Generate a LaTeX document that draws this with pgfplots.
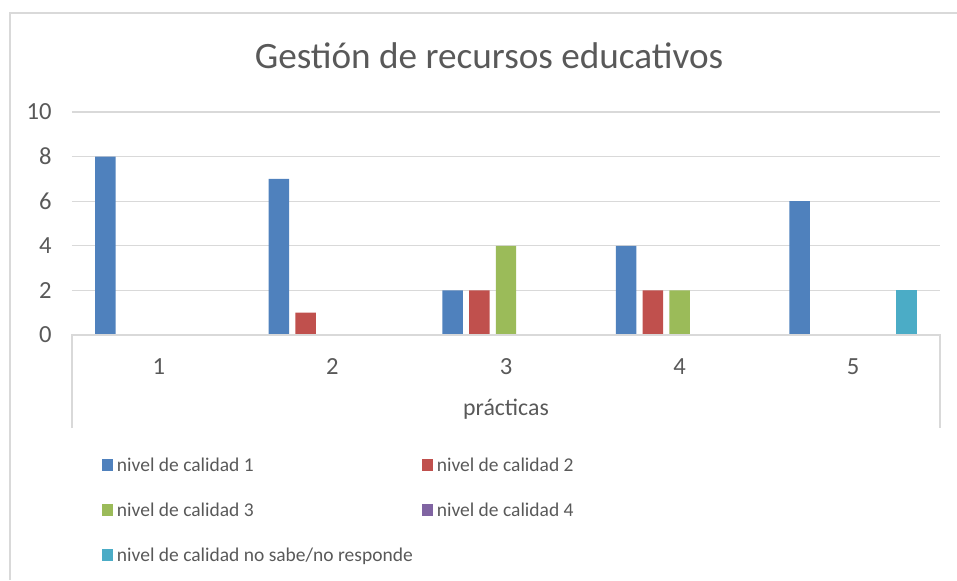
\documentclass[border=0pt]{standalone}
\usepackage{fontspec}
\setmainfont{Carlito}
\usepackage{pgfplots}
\pgfplotsset{compat=1.18}
\definecolor{cA}{HTML}{4F81BD}
\definecolor{cB}{HTML}{C0504D}
\definecolor{cC}{HTML}{9BBB59}
\definecolor{cD}{HTML}{8064A2}
\definecolor{cE}{HTML}{4BACC6}
\definecolor{gridc}{HTML}{D9D9D9}
\definecolor{txt}{HTML}{595959}
\pgfplotsset{sqlegend/.style={legend image code/.code={\fill[##1,draw=none] (0pt,-2.5pt) rectangle (5.5pt,3.75pt);}}}
\begin{document}
\color{txt}
\begin{tikzpicture}
\useasboundingbox (0,0) rectangle (478.5pt,-290pt);
\draw[gridc, line width=0.7pt] (5pt,-290pt) -- (5pt,-6.5pt) -- (478.5pt,-6.5pt);
\node[anchor=base, font=\fontsize{18.6}{22}\selectfont, text=txt] at (244.5pt,-34.15pt) {Gestión de recursos educativos};
\begin{axis}[
  name=ax,
  at={(36pt,-167.5pt)}, anchor=south west,
  scale only axis, width=434pt, height=111.5pt,
  xmin=0.5, xmax=5.5, ymin=0, ymax=10,
  xtick={1,2,3,4,5}, ytick={0,2,4,6,8,10},
  /pgf/number format/assume math mode=true,
  major tick length=0pt,
  tick style={draw=none},
  axis line style={draw=none},
  ymajorgrids, grid style={gridc, line width=0.65pt},
  tick label style={font=\fontsize{12.3}{14}\selectfont, text=txt},
  yticklabel style={anchor=east, inner sep=0pt, xshift=-10pt},
  xticklabel style={anchor=base, inner sep=0pt, yshift=-19.5pt},
  xlabel={prácticas},
  x label style={at={(axis description cs:0.5,0)}, anchor=base, inner sep=0pt, yshift=-40pt, font=\fontsize{11.9}{14}\selectfont, text=txt},
  legend columns=2,
  legend cell align=left,
  legend style={
    at={(axis description cs:0.03456,-0.53812)}, anchor=north west,
    draw=none, fill=none, inner sep=0pt, outer sep=0pt,
    font=\fontsize{9.75}{12}\selectfont, text=txt,
    column sep=0pt, row sep=11.5pt,
    nodes={inner sep=0pt, text height=8pt, text depth=3pt, font=\fontsize{9.75}{12}\selectfont},
    /tikz/every odd column/.append style={column sep=2pt},
    /tikz/every even column/.append style={column sep=4.5pt},
  },
]
\addplot[ybar, sqlegend, fill=cA, draw=none, bar width=0.118, bar shift=-0.308] coordinates {(1,8) (2,7) (3,2) (4,4) (5,6)};
\addlegendentry{nivel de calidad 1}
\addplot[ybar, sqlegend, fill=cB, draw=none, bar width=0.118, bar shift=-0.154] coordinates {(2,1) (3,2) (4,2)};
\addlegendentry{nivel de calidad 2}
\addplot[ybar, sqlegend, fill=cC, draw=none, bar width=0.118, bar shift=0] coordinates {(3,4) (4,2)};
\addlegendentry{nivel de calidad 3}
\addlegendimage{ybar, sqlegend, fill=cD, draw=none}
\addlegendentry{nivel de calidad 4}
\addplot[ybar, sqlegend, fill=cE, draw=none, bar width=0.118, bar shift=0.308] coordinates {(5,2)};
\addlegendentry{nivel de calidad no sabe/no responde}
\end{axis}
\draw[gridc, line width=0.65pt] ([yshift=-46.5pt]ax.south west) -- (ax.south west) -- (ax.south east) -- ([yshift=-46.5pt]ax.south east);
\end{tikzpicture}
\end{document}
